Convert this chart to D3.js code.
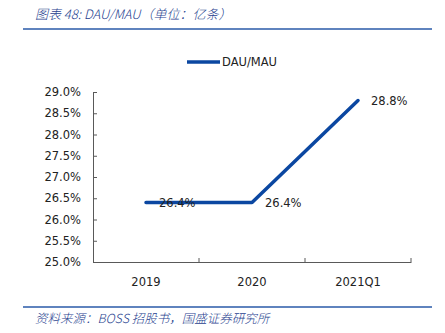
<!DOCTYPE html>
<html>
<head>
<meta charset="utf-8">
<script src="https://cdn.jsdelivr.net/npm/d3@7/dist/d3.min.js"></script>
<style>
  html, body { margin: 0; padding: 0; background: #fff; }
  svg { display: block; }
</style>
</head>
<body>
<script>
// DAU/MAU ratio by period
const categories = ["2019", "2020", "2021Q1"];
const dauMau = [26.4, 26.4, 28.8];
const yTicks = [25.0, 25.5, 26.0, 26.5, 27.0, 27.5, 28.0, 28.5, 29.0];
const seriesName = "DAU/MAU";
const titleText = "图表 48:  DAU/MAU（单位：亿条）";
const sourceText = "资料来源：BOSS 招股书，国盛证券研究所";

const W = 445, H = 333;
const svg = d3.select("body").append("svg").attr("width", W).attr("height", H);

const navy = "#1f3f8f";
const lineBlue = "#0b47a1";
const font = "'DejaVu Sans', Verdana, sans-serif";

// header and footer
svg.append("text").attr("x", 35).attr("y", 19)
  .attr("font-family", "'Noto Sans CJK SC', 'DejaVu Sans', sans-serif")
  .attr("font-style", "italic").attr("font-size", 13).attr("font-weight", 300)
  .attr("fill", navy)
  .text(titleText);
svg.append("line").attr("x1", 23).attr("x2", 432).attr("y1", 29).attr("y2", 29)
  .attr("stroke", "#2a5aa8").attr("stroke-width", 1.5);
svg.append("line").attr("x1", 23).attr("x2", 432).attr("y1", 307).attr("y2", 307)
  .attr("stroke", "#2a5aa8").attr("stroke-width", 1.5);
svg.append("text").attr("x", 35).attr("y", 323)
  .attr("font-family", "'Noto Sans CJK SC', 'DejaVu Sans', sans-serif")
  .attr("font-style", "italic").attr("font-size", 12.5).attr("font-weight", 300)
  .attr("fill", navy)
  .text(sourceText);

// scales
const x = d3.scaleBand().domain(categories).range([93, 411]).padding(0);
const y = d3.scaleLinear().domain([25, 29]).range([262, 92]);

// y axis
const yAxis = svg.append("g").attr("transform", "translate(93,0)")
  .call(d3.axisLeft(y).tickValues(yTicks).tickSize(4).tickSizeOuter(0)
    .tickFormat(d => d.toFixed(1) + "%"));
yAxis.select(".domain").attr("stroke", "#595959");
yAxis.selectAll(".tick line").attr("stroke", "#595959").attr("x1", 0).attr("x2", 4);
yAxis.selectAll(".tick text").attr("x", -12).attr("font-family", font)
  .attr("font-size", 11.5).attr("fill", "#222");

// x axis
const xAxis = svg.append("g").attr("transform", "translate(0,262)")
  .call(d3.axisBottom(x).tickSize(0).tickSizeOuter(0));
xAxis.select(".domain").attr("stroke", "#595959");
xAxis.selectAll(".tick text").attr("y", 16).attr("font-family", font)
  .attr("font-size", 11.5).attr("fill", "#222");
// category boundary marks
svg.append("g").selectAll("line")
  .data(categories)
  .join("line")
  .attr("x1", d => x(d) + x.bandwidth())
  .attr("x2", d => x(d) + x.bandwidth())
  .attr("y1", 258).attr("y2", 262)
  .attr("stroke", "#595959");

// series line
const cx = d => x(d) + x.bandwidth() / 2;
const line = d3.line().x((d, i) => cx(categories[i])).y(d => y(d));
svg.append("path").datum(dauMau).attr("d", line)
  .attr("fill", "none").attr("stroke", lineBlue).attr("stroke-width", 3.5)
  .attr("stroke-linecap", "round").attr("stroke-linejoin", "round");

// data labels
svg.append("g").selectAll("text").data(dauMau).join("text")
  .attr("x", (d, i) => cx(categories[i]) + 13)
  .attr("y", d => y(d) + 4.5)
  .attr("font-family", font).attr("font-size", 11.5).attr("fill", "#222")
  .text(d => d.toFixed(1) + "%");

// legend
svg.append("line").attr("x1", 187).attr("x2", 220).attr("y1", 62).attr("y2", 62)
  .attr("stroke", lineBlue).attr("stroke-width", 3.5);
svg.append("text").attr("x", 222).attr("y", 66)
  .attr("font-family", font).attr("font-size", 11.5).attr("fill", "#222")
  .text(seriesName);
</script>
</body>
</html>
